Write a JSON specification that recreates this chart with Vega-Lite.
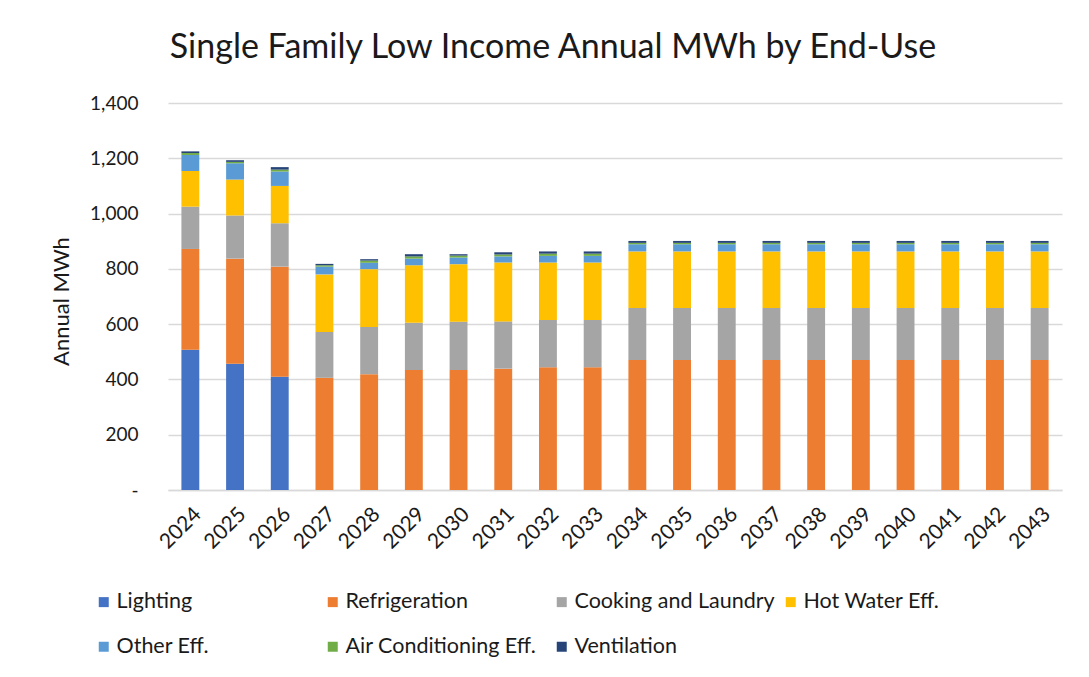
{
  "$schema": "https://vega.github.io/schema/vega-lite/v6.json",
  "width": 894,
  "height": 387,
  "autosize": {"type": "none"},
  "padding": {"left": 168, "top": 103, "right": 27, "bottom": 187},
  "background": "white",
  "title": {
    "text": "Single Family Low Income Annual MWh by End-Use",
    "font": "Lato",
    "fontSize": 34,
    "fontWeight": "normal",
    "color": "#1a1a1a",
    "anchor": "middle",
    "frame": "group",
    "dx": -62,
    "offset": 29
  },
  "data": {
    "values": [
      {"year": "2024", "use": "Lighting", "mwh": 507},
      {"year": "2024", "use": "Refrigeration", "mwh": 365},
      {"year": "2024", "use": "Cooking and Laundry", "mwh": 153},
      {"year": "2024", "use": "Hot Water Eff.", "mwh": 129},
      {"year": "2024", "use": "Other Eff.", "mwh": 58},
      {"year": "2024", "use": "Air Conditioning Eff.", "mwh": 7},
      {"year": "2024", "use": "Ventilation", "mwh": 6},
      {"year": "2025", "use": "Lighting", "mwh": 457},
      {"year": "2025", "use": "Refrigeration", "mwh": 380},
      {"year": "2025", "use": "Cooking and Laundry", "mwh": 156},
      {"year": "2025", "use": "Hot Water Eff.", "mwh": 130},
      {"year": "2025", "use": "Other Eff.", "mwh": 59},
      {"year": "2025", "use": "Air Conditioning Eff.", "mwh": 5},
      {"year": "2025", "use": "Ventilation", "mwh": 6},
      {"year": "2026", "use": "Lighting", "mwh": 410},
      {"year": "2026", "use": "Refrigeration", "mwh": 398},
      {"year": "2026", "use": "Cooking and Laundry", "mwh": 157},
      {"year": "2026", "use": "Hot Water Eff.", "mwh": 135},
      {"year": "2026", "use": "Other Eff.", "mwh": 52},
      {"year": "2026", "use": "Air Conditioning Eff.", "mwh": 7},
      {"year": "2026", "use": "Ventilation", "mwh": 9},
      {"year": "2027", "use": "Lighting", "mwh": 0},
      {"year": "2027", "use": "Refrigeration", "mwh": 406},
      {"year": "2027", "use": "Cooking and Laundry", "mwh": 166},
      {"year": "2027", "use": "Hot Water Eff.", "mwh": 208},
      {"year": "2027", "use": "Other Eff.", "mwh": 28},
      {"year": "2027", "use": "Air Conditioning Eff.", "mwh": 5},
      {"year": "2027", "use": "Ventilation", "mwh": 5},
      {"year": "2028", "use": "Lighting", "mwh": 0},
      {"year": "2028", "use": "Refrigeration", "mwh": 419},
      {"year": "2028", "use": "Cooking and Laundry", "mwh": 171},
      {"year": "2028", "use": "Hot Water Eff.", "mwh": 209},
      {"year": "2028", "use": "Other Eff.", "mwh": 23},
      {"year": "2028", "use": "Air Conditioning Eff.", "mwh": 8},
      {"year": "2028", "use": "Ventilation", "mwh": 5},
      {"year": "2029", "use": "Lighting", "mwh": 0},
      {"year": "2029", "use": "Refrigeration", "mwh": 434},
      {"year": "2029", "use": "Cooking and Laundry", "mwh": 171},
      {"year": "2029", "use": "Hot Water Eff.", "mwh": 208},
      {"year": "2029", "use": "Other Eff.", "mwh": 24},
      {"year": "2029", "use": "Air Conditioning Eff.", "mwh": 8},
      {"year": "2029", "use": "Ventilation", "mwh": 8},
      {"year": "2030", "use": "Lighting", "mwh": 0},
      {"year": "2030", "use": "Refrigeration", "mwh": 434},
      {"year": "2030", "use": "Cooking and Laundry", "mwh": 175},
      {"year": "2030", "use": "Hot Water Eff.", "mwh": 208},
      {"year": "2030", "use": "Other Eff.", "mwh": 24},
      {"year": "2030", "use": "Air Conditioning Eff.", "mwh": 7},
      {"year": "2030", "use": "Ventilation", "mwh": 5},
      {"year": "2031", "use": "Lighting", "mwh": 0},
      {"year": "2031", "use": "Refrigeration", "mwh": 439},
      {"year": "2031", "use": "Cooking and Laundry", "mwh": 171},
      {"year": "2031", "use": "Hot Water Eff.", "mwh": 213},
      {"year": "2031", "use": "Other Eff.", "mwh": 22},
      {"year": "2031", "use": "Air Conditioning Eff.", "mwh": 7},
      {"year": "2031", "use": "Ventilation", "mwh": 8},
      {"year": "2032", "use": "Lighting", "mwh": 0},
      {"year": "2032", "use": "Refrigeration", "mwh": 444},
      {"year": "2032", "use": "Cooking and Laundry", "mwh": 171},
      {"year": "2032", "use": "Hot Water Eff.", "mwh": 208},
      {"year": "2032", "use": "Other Eff.", "mwh": 24},
      {"year": "2032", "use": "Air Conditioning Eff.", "mwh": 8},
      {"year": "2032", "use": "Ventilation", "mwh": 8},
      {"year": "2033", "use": "Lighting", "mwh": 0},
      {"year": "2033", "use": "Refrigeration", "mwh": 444},
      {"year": "2033", "use": "Cooking and Laundry", "mwh": 171},
      {"year": "2033", "use": "Hot Water Eff.", "mwh": 208},
      {"year": "2033", "use": "Other Eff.", "mwh": 24},
      {"year": "2033", "use": "Air Conditioning Eff.", "mwh": 8},
      {"year": "2033", "use": "Ventilation", "mwh": 8},
      {"year": "2034", "use": "Lighting", "mwh": 0},
      {"year": "2034", "use": "Refrigeration", "mwh": 470},
      {"year": "2034", "use": "Cooking and Laundry", "mwh": 188},
      {"year": "2034", "use": "Hot Water Eff.", "mwh": 205},
      {"year": "2034", "use": "Other Eff.", "mwh": 26},
      {"year": "2034", "use": "Air Conditioning Eff.", "mwh": 5},
      {"year": "2034", "use": "Ventilation", "mwh": 7},
      {"year": "2035", "use": "Lighting", "mwh": 0},
      {"year": "2035", "use": "Refrigeration", "mwh": 470},
      {"year": "2035", "use": "Cooking and Laundry", "mwh": 188},
      {"year": "2035", "use": "Hot Water Eff.", "mwh": 205},
      {"year": "2035", "use": "Other Eff.", "mwh": 26},
      {"year": "2035", "use": "Air Conditioning Eff.", "mwh": 5},
      {"year": "2035", "use": "Ventilation", "mwh": 7},
      {"year": "2036", "use": "Lighting", "mwh": 0},
      {"year": "2036", "use": "Refrigeration", "mwh": 470},
      {"year": "2036", "use": "Cooking and Laundry", "mwh": 188},
      {"year": "2036", "use": "Hot Water Eff.", "mwh": 205},
      {"year": "2036", "use": "Other Eff.", "mwh": 26},
      {"year": "2036", "use": "Air Conditioning Eff.", "mwh": 5},
      {"year": "2036", "use": "Ventilation", "mwh": 7},
      {"year": "2037", "use": "Lighting", "mwh": 0},
      {"year": "2037", "use": "Refrigeration", "mwh": 470},
      {"year": "2037", "use": "Cooking and Laundry", "mwh": 188},
      {"year": "2037", "use": "Hot Water Eff.", "mwh": 205},
      {"year": "2037", "use": "Other Eff.", "mwh": 26},
      {"year": "2037", "use": "Air Conditioning Eff.", "mwh": 5},
      {"year": "2037", "use": "Ventilation", "mwh": 7},
      {"year": "2038", "use": "Lighting", "mwh": 0},
      {"year": "2038", "use": "Refrigeration", "mwh": 470},
      {"year": "2038", "use": "Cooking and Laundry", "mwh": 188},
      {"year": "2038", "use": "Hot Water Eff.", "mwh": 205},
      {"year": "2038", "use": "Other Eff.", "mwh": 26},
      {"year": "2038", "use": "Air Conditioning Eff.", "mwh": 5},
      {"year": "2038", "use": "Ventilation", "mwh": 7},
      {"year": "2039", "use": "Lighting", "mwh": 0},
      {"year": "2039", "use": "Refrigeration", "mwh": 470},
      {"year": "2039", "use": "Cooking and Laundry", "mwh": 188},
      {"year": "2039", "use": "Hot Water Eff.", "mwh": 205},
      {"year": "2039", "use": "Other Eff.", "mwh": 26},
      {"year": "2039", "use": "Air Conditioning Eff.", "mwh": 5},
      {"year": "2039", "use": "Ventilation", "mwh": 7},
      {"year": "2040", "use": "Lighting", "mwh": 0},
      {"year": "2040", "use": "Refrigeration", "mwh": 470},
      {"year": "2040", "use": "Cooking and Laundry", "mwh": 188},
      {"year": "2040", "use": "Hot Water Eff.", "mwh": 205},
      {"year": "2040", "use": "Other Eff.", "mwh": 26},
      {"year": "2040", "use": "Air Conditioning Eff.", "mwh": 5},
      {"year": "2040", "use": "Ventilation", "mwh": 7},
      {"year": "2041", "use": "Lighting", "mwh": 0},
      {"year": "2041", "use": "Refrigeration", "mwh": 470},
      {"year": "2041", "use": "Cooking and Laundry", "mwh": 188},
      {"year": "2041", "use": "Hot Water Eff.", "mwh": 205},
      {"year": "2041", "use": "Other Eff.", "mwh": 26},
      {"year": "2041", "use": "Air Conditioning Eff.", "mwh": 5},
      {"year": "2041", "use": "Ventilation", "mwh": 7},
      {"year": "2042", "use": "Lighting", "mwh": 0},
      {"year": "2042", "use": "Refrigeration", "mwh": 470},
      {"year": "2042", "use": "Cooking and Laundry", "mwh": 188},
      {"year": "2042", "use": "Hot Water Eff.", "mwh": 205},
      {"year": "2042", "use": "Other Eff.", "mwh": 26},
      {"year": "2042", "use": "Air Conditioning Eff.", "mwh": 5},
      {"year": "2042", "use": "Ventilation", "mwh": 7},
      {"year": "2043", "use": "Lighting", "mwh": 0},
      {"year": "2043", "use": "Refrigeration", "mwh": 470},
      {"year": "2043", "use": "Cooking and Laundry", "mwh": 188},
      {"year": "2043", "use": "Hot Water Eff.", "mwh": 205},
      {"year": "2043", "use": "Other Eff.", "mwh": 26},
      {"year": "2043", "use": "Air Conditioning Eff.", "mwh": 5},
      {"year": "2043", "use": "Ventilation", "mwh": 7}
    ]
  },
  "transform": [
    {"calculate": "indexof(['Lighting', 'Refrigeration', 'Cooking and Laundry', 'Hot Water Eff.', 'Other Eff.', 'Air Conditioning Eff.', 'Ventilation'], datum.use)", "as": "stackOrder"}
  ],
  "mark": {"type": "bar"},
  "encoding": {
    "x": {
      "field": "year",
      "type": "ordinal",
      "scale": {"paddingInner": 0.6, "paddingOuter": 0.3},
      "axis": {
        "title": null,
        "labelAngle": -45,
        "labelFont": "Lato",
        "labelFontSize": 21,
        "labelColor": "#1a1a1a",
        "labelPadding": 13,
        "ticks": false,
        "domainColor": "#d9d9d9",
        "domainWidth": 1.5,
        "grid": false
      }
    },
    "y": {
      "field": "mwh",
      "type": "quantitative",
      "stack": "zero",
      "scale": {"domain": [0, 1400], "nice": false},
      "axis": {
        "title": "Annual MWh",
        "titleFont": "Lato",
        "titleFontSize": 22,
        "titleFontWeight": "normal",
        "titleColor": "#1a1a1a",
        "titlePadding": 16,
        "titleY": 198,
        "values": [0, 200, 400, 600, 800, 1000, 1200, 1400],
        "labelExpr": "datum.value == 0 ? '-' : format(datum.value, ',')",
        "labelFont": "Lato",
        "labelFontSize": 19,
        "labelColor": "#1a1a1a",
        "labelPadding": 30,
        "ticks": false,
        "domain": false,
        "gridColor": "#d9d9d9",
        "gridWidth": 1.5
      }
    },
    "color": {
      "field": "use",
      "type": "nominal",
      "sort": ["Lighting", "Refrigeration", "Cooking and Laundry", "Hot Water Eff.", "Other Eff.", "Air Conditioning Eff.", "Ventilation"],
      "scale": {
        "domain": ["Lighting", "Refrigeration", "Cooking and Laundry", "Hot Water Eff.", "Other Eff.", "Air Conditioning Eff.", "Ventilation"],
        "range": ["#4472C4", "#ED7D31", "#A5A5A5", "#FFC000", "#5B9BD5", "#70AD47", "#264478"]
      },
      "legend": {
        "title": null,
        "orient": "none",
        "legendX": -75,
        "legendY": 488,
        "direction": "horizontal",
        "columns": 4,
        "gridAlign": "all",
        "symbolType": "square",
        "symbolSize": 100,
        "symbolStrokeWidth": 0,
        "labelFont": "Lato",
        "labelFontSize": 21.5,
        "labelColor": "#1a1a1a",
        "labelOffset": 2,
        "labelLimit": 300,
        "rowPadding": 22,
        "columnPadding": 5,
        "padding": 0
      }
    },
    "order": {"field": "stackOrder", "type": "quantitative", "sort": "ascending"}
  },
  "config": {
    "view": {"stroke": null},
    "font": "Lato"
  }
}
